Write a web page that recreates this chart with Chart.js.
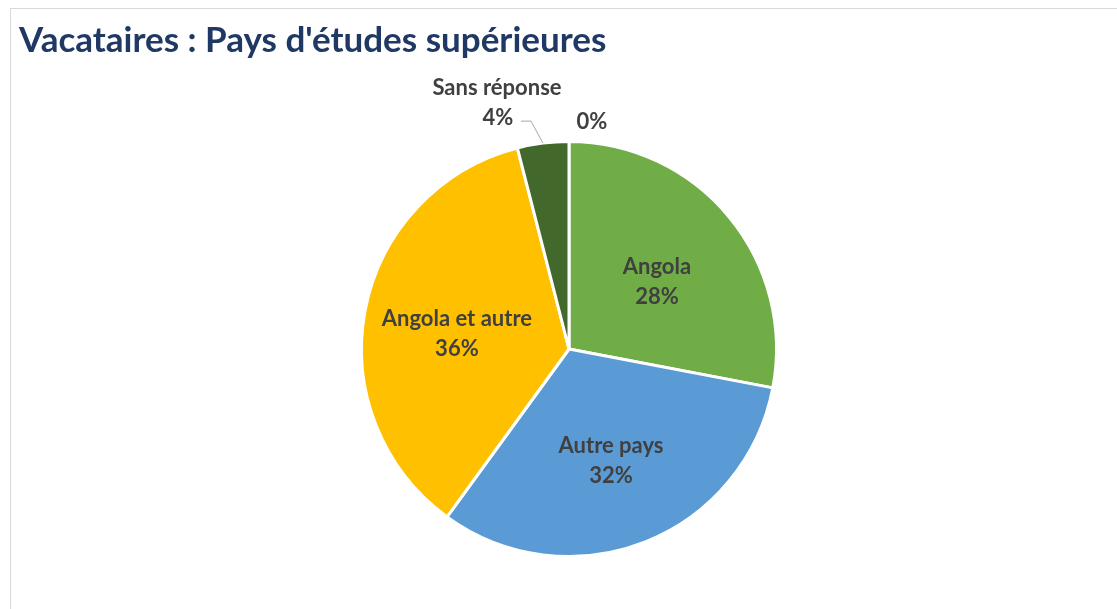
<!DOCTYPE html>
<html>
<head>
<meta charset="utf-8">
<script src="https://cdn.jsdelivr.net/npm/chart.js@4"></script>
<style>
  html, body { margin: 0; padding: 0; background: #fff; }
  .frame {
    position: absolute; left: 10px; top: 8px; width: 1120px; height: 620px;
    border: 1px solid #d9d9d9; box-sizing: border-box;
  }
  #wrap { position: absolute; left: 0; top: 0; width: 1117px; height: 609px; }
</style>
</head>
<body>
<div class="frame"></div>
<div id="wrap"><canvas id="pieChart"></canvas></div>
<script>
// Data
const categories = ["Angola", "Autre pays", "Angola et autre", "Sans réponse", ""];
const counts = [7, 8, 9, 1, 0];
const sliceColors = ["#70ad47", "#5b9bd5", "#ffc000", "#43682b", "#264478"];

const titleText = "Vacataires : Pays d'études supérieures";
const labelFont = "bold 22px Lato";
const labelColor = "#404040";

const total = counts.reduce((a, b) => a + b, 0);
const pct = v => Math.round(v / total * 100) + "%";

// draws title and data labels
const labelPlugin = {
    id: "pieLabels",
    afterDraw(chart) {
        const ctx = chart.ctx;
        ctx.save();
        ctx.fillStyle = "#1f3864";
        ctx.font = "bold 35px Lato";
        ctx.textAlign = "left";
        ctx.textBaseline = "alphabetic";
        ctx.fillText(titleText, 19, 52);

        const meta = chart.getDatasetMeta(0);
        ctx.font = labelFont;
        ctx.fillStyle = labelColor;
        ctx.textAlign = "center";
        ctx.textBaseline = "middle";
        meta.data.forEach((arc, i) => {
            const mid = (arc.startAngle + arc.endAngle) / 2;
            const r = arc.outerRadius;
            const dx = Math.cos(mid), dy = Math.sin(mid);
            const share = counts[i] / total;
            if (share >= 0.1) {
                const x = arc.x + dx * r * 0.55;
                const y = arc.y + dy * r * 0.55 + 6;
                ctx.fillText(categories[i], x, y - 15);
                ctx.fillText(pct(counts[i]), x, y + 15);
            } else if (counts[i] > 0) {
                // outside label with leader line
                const ex = arc.x + dx * r, ey = arc.y + dy * r;
                const kx = ex - 12, ky = ey - 22;
                ctx.strokeStyle = "#a6a6a6";
                ctx.lineWidth = 1;
                ctx.beginPath();
                ctx.moveTo(ex, ey);
                ctx.lineTo(kx, ky);
                ctx.lineTo(kx - 10, ky);
                ctx.stroke();
                const tx = kx - 34;
                ctx.fillText(categories[i], tx, ky - 33);
                ctx.fillText(pct(counts[i]), tx + 1, ky - 3);
            } else {
                ctx.fillText(pct(counts[i]), arc.x + 23, arc.y - r - 20);
            }
        });
        ctx.restore();
    }
};

new Chart(document.getElementById("pieChart"), {
    type: "pie",
    data: {
        labels: categories,
        datasets: [{
            data: counts,
            backgroundColor: sliceColors,
            borderColor: "#ffffff",
            borderWidth: 3
        }]
    },
    options: {
        responsive: true,
        maintainAspectRatio: false,
        animation: false,
        layout: { padding: { left: 360, right: 339, top: 140, bottom: 51 } },
        plugins: {
            legend: { display: false },
            tooltip: { enabled: false }
        }
    },
    plugins: [labelPlugin]
});
</script>
</body>
</html>
